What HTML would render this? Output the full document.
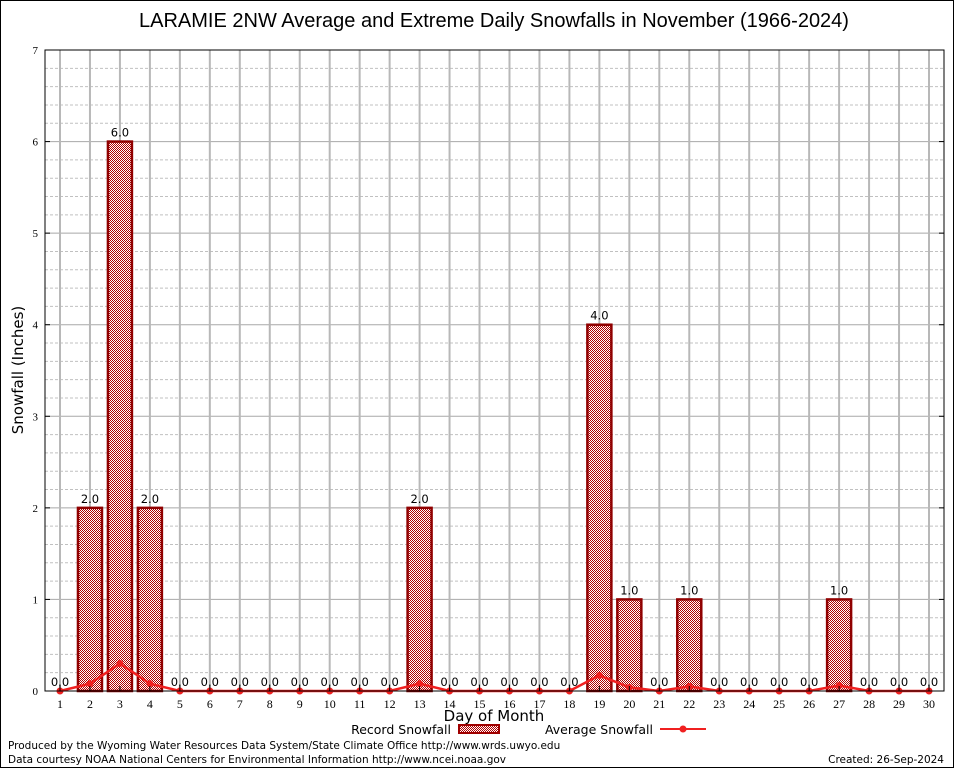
<!DOCTYPE html>
<html><head><meta charset="utf-8"><style>
body{margin:0;background:#fff;font-family:"DejaVu Sans","Liberation Sans",sans-serif;}
svg{display:block}
</style></head><body>
<svg id="c" width="954" height="768" xmlns="http://www.w3.org/2000/svg">
<defs>
<pattern id="hatch" width="2" height="2" patternUnits="userSpaceOnUse">
<rect width="2" height="2" fill="#fff"/>
<rect width="1" height="1" fill="#b00000"/>
<rect x="1" y="1" width="1" height="1" fill="#b00000"/>
</pattern>
</defs>
<rect x="0.5" y="0.5" width="953" height="767" fill="#fff" stroke="#000"/>
<text x="494" y="27" text-anchor="middle" font-size="20" font-family="Liberation Sans, sans-serif">LARAMIE 2NW Average and Extreme Daily Snowfalls in November (1966-2024)</text>
<g id="grid"></g>
<g id="bars"></g>
<g id="avg"></g>
<rect x="45" y="50" width="899" height="641" fill="none" stroke="#000"/>
<g id="axes"></g>
<text x="23" y="370" transform="rotate(-90 23 370)" text-anchor="middle" font-size="15">Snowfall (Inches)</text>
<text x="494" y="721" text-anchor="middle" font-size="15">Day of Month</text>
<g>
<text x="451" y="734" text-anchor="end" font-size="12.5">Record Snowfall</text>
<rect x="459" y="725" width="40" height="8" fill="url(#hatch)" stroke="#a00000" stroke-width="2"/>
<text x="653" y="734" text-anchor="end" font-size="12.5">Average Snowfall</text>
<line x1="660" y1="729" x2="706" y2="729" stroke="#f02020" stroke-width="2"/>
<circle cx="683" cy="729" r="3.5" fill="#f02020"/>
</g>
<text x="8" y="749" font-size="10.5">Produced by the Wyoming Water Resources Data System/State Climate Office http://www.wrds.uwyo.edu</text>
<text x="8" y="763" font-size="10.5">Data courtesy NOAA National Centers for Environmental Information http://www.ncei.noaa.gov</text>
<text x="944" y="763" text-anchor="end" font-size="10.5">Created: 26-Sep-2024</text>
</svg>
<script>
const days=[1,2,3,4,5,6,7,8,9,10,11,12,13,14,15,16,17,18,19,20,21,22,23,24,25,26,27,28,29,30];
const recordValues=[0,2,6,2,0,0,0,0,0,0,0,0,2,0,0,0,0,0,4,1,0,1,0,0,0,0,1,0,0,0];
const averageValues=[0,0.08,0.3,0.08,0,0,0,0,0,0,0,0,0.08,0,0,0,0,0,0.17,0.04,0,0.05,0,0,0,0,0.06,0,0,0];
const yTicks=[0,1,2,3,4,5,6,7];
const NS="http://www.w3.org/2000/svg";
const X0=45,X1=944,Y0=691,Y1=50,YMAX=7;
function xs(d){return 60+(d-1)*(929-60)/29;}
function ys(v){return Y0-v*(Y0-Y1)/YMAX;}
function mk(tag,attrs,parent,text){const e=document.createElementNS(NS,tag);for(const k in attrs)e.setAttribute(k,attrs[k]);if(text!==undefined)e.textContent=text;document.getElementById(parent).appendChild(e);return e;}
for(let v=0;v<YMAX;v+=0.2){const vv=Math.round(v*10)/10;if(Math.abs(vv-Math.round(vv))<1e-6)continue;
const l=mk('line',{x1:X0,x2:X1,y1:ys(vv),y2:ys(vv),stroke:'#c0c0c0','stroke-dasharray':'3,2'},'grid');

}
yTicks.forEach(t=>{const l=mk('line',{x1:X0,x2:X1,y1:ys(t),y2:ys(t),stroke:'#a8a8a8'},'grid');


const tx=mk('text',{x:38,y:ys(t)+4,'text-anchor':'end','font-size':11,'font-family':'Liberation Serif, serif'},'axes',String(t));


mk('line',{x1:X0,x2:X0+5,y1:ys(t),y2:ys(t),stroke:'#000'},'axes');
mk('line',{x1:X1-5,x2:X1,y1:ys(t),y2:ys(t),stroke:'#000'},'axes');});
days.forEach(d=>{const l=mk('line',{x1:xs(d),x2:xs(d),y1:Y1,y2:Y0,stroke:'#b8b8b8','stroke-width':2},'grid');


const tx=mk('text',{x:xs(d),y:708,'text-anchor':'middle','font-size':12,'font-family':'Liberation Serif, serif'},'axes',String(d));


mk('line',{x1:xs(d),x2:xs(d),y1:Y0,y2:Y0-5,stroke:'#000'},'axes');});
days.forEach((d,i)=>{const v=recordValues[i];
if(v>0){const b=mk('rect',{x:xs(d)-12,y:ys(v),width:24,height:Y0-ys(v),fill:'url(#hatch)',stroke:'#900000','stroke-width':2.5},'bars');

}
const t=mk('text',{x:xs(d),y:ys(v)-5,'text-anchor':'middle','font-size':11.5},'bars',v.toFixed(1));

});
const pts=days.map((d,i)=>xs(d)+','+ys(averageValues[i])).join(' ');
const pl=mk('polyline',{points:pts,fill:'none',stroke:'#f02020','stroke-width':2.5},'avg');


days.forEach((d,i)=>{const c=mk('circle',{cx:xs(d),cy:ys(averageValues[i]),r:3.5,fill:'#f02020'},'avg');

});
</script>
</body></html>
